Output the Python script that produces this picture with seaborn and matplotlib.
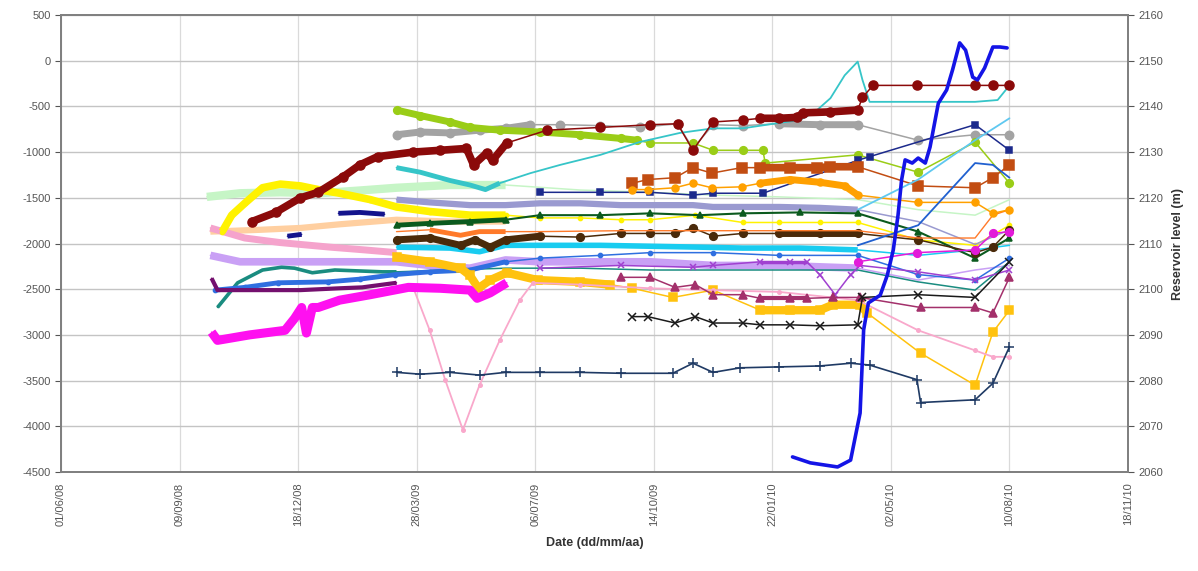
import numpy as np
import pandas as pd
import matplotlib
matplotlib.use("Agg")
import matplotlib.pyplot as plt
import matplotlib.dates as mdates
import seaborn as sns

# Monitoring readings (left axis) and reservoir level (right axis).
# Dates are spreadsheet serial numbers (days since 1899-12-30).

mint_t = [39723, 39751, 39785, 39818, 39852, 39883, 39928, 39975, 40038, 40097, 40150, 40206, 40272, 40323, 40371, 40400]
mint_v = [-1490, -1450, -1440, -1450, -1420, -1390, -1360, -1360, -1415, -1440, -1470, -1490, -1520, -1630, -1690, -1520]

yellow_t = [39736, 39744, 39755, 39770, 39785, 39802, 39817, 39835, 39861, 39883, 39911, 39945, 39975, 40004, 40038, 40072, 40097, 40135, 40175, 40206, 40240, 40272, 40323, 40371, 40400]
yellow_v = [-1870, -1690, -1560, -1390, -1350, -1370, -1410, -1450, -1520, -1600, -1650, -1690, -1690, -1720, -1720, -1740, -1740, -1690, -1770, -1770, -1770, -1770, -1960, -2020, -1800]

peach_t = [39726, 39768, 39802, 39835, 39883, 39928, 39975]
peach_v = [-1870, -1850, -1830, -1790, -1740, -1760, -1760]

pink_early_t = [39726, 39755, 39785, 39827, 39856, 39883]
pink_early_v = [-1830, -1940, -1990, -2040, -2070, -2100]

lilac_t = [39726, 39751, 39785, 39818, 39852, 39883, 39911, 39945, 39975, 40004, 40055, 40097, 40150, 40206, 40272, 40323, 40371, 40400]
lilac_v = [-2130, -2200, -2200, -2200, -2200, -2200, -2240, -2270, -2180, -2200, -2200, -2200, -2240, -2240, -2270, -2400, -2290, -2240]

teal_t = [39732, 39749, 39770, 39786, 39797, 39812, 39831, 39871, 39883, 39928, 39975, 40038, 40097, 40150, 40206, 40272, 40323, 40371, 40400]
teal_v = [-2700, -2430, -2290, -2260, -2270, -2320, -2290, -2310, -2310, -2290, -2270, -2270, -2290, -2290, -2290, -2290, -2420, -2510, -2200]

blue_t = [39730, 39755, 39783, 39825, 39852, 39882, 39911, 39945, 39975, 40004, 40055, 40097, 40150, 40206, 40272, 40323, 40371, 40400]
blue_v = [-2510, -2480, -2430, -2420, -2390, -2340, -2310, -2290, -2200, -2160, -2130, -2100, -2100, -2130, -2130, -2340, -2400, -2160]

dkpurple_t = [39727, 39732, 39770, 39802, 39835, 39854, 39883]
dkpurple_v = [-2380, -2510, -2510, -2510, -2490, -2480, -2430]

navy_a_t = [39791, 39803]
navy_a_v = [-1920, -1900]
navy_b_t = [39834, 39852, 39873]
navy_b_v = [-1670, -1660, -1680]

magenta_t = [39727, 39732, 39759, 39789, 39797, 39803, 39807, 39812, 39817, 39835, 39861, 39893, 39920, 39945, 39951, 39962, 39976]
magenta_v = [-2970, -3060, -3000, -2950, -2820, -2700, -2980, -2700, -2700, -2620, -2560, -2480, -2490, -2510, -2600, -2540, -2430]

darkred_t = [39761, 39781, 39802, 39817, 39838, 39852, 39867, 39897, 39920, 39942, 39948, 39959, 39964, 39976, 40010, 40055, 40097, 40120, 40133, 40150, 40175, 40190, 40206, 40221, 40226, 40249, 40272, 40276, 40285, 40322, 40371, 40386, 40400]
darkred_v = [-1760, -1660, -1500, -1440, -1270, -1140, -1050, -1000, -980, -960, -1140, -1010, -1090, -900, -760, -730, -700, -690, -980, -670, -650, -630, -630, -620, -570, -560, -540, -400, -270, -270, -270, -270, -270]

grey_t = [39883, 39903, 39928, 39953, 39975, 39996, 40021, 40055, 40088, 40120, 40133, 40150, 40175, 40206, 40240, 40272, 40323, 40371, 40400]
grey_v = [-810, -780, -790, -760, -740, -700, -700, -710, -730, -690, -960, -700, -710, -690, -700, -700, -870, -810, -810]

ygreen_t = [39883, 39903, 39928, 39945, 39970, 40004, 40038, 40072, 40086, 40097, 40133, 40150, 40175, 40192, 40194, 40272, 40323, 40371, 40400]
ygreen_v = [-540, -600, -670, -730, -760, -780, -810, -850, -870, -900, -900, -980, -980, -980, -1120, -1030, -1220, -890, -1340]

cyan_t = [39883, 39903, 39928, 39945, 39958, 39970, 39996, 40021, 40055, 40088, 40122, 40150, 40175, 40206, 40223, 40236, 40249, 40261, 40272, 40276, 40282, 40323, 40371, 40390, 40400]
cyan_v = [-1170, -1220, -1310, -1360, -1410, -1340, -1230, -1140, -1030, -890, -790, -740, -740, -680, -650, -560, -410, -160, -10, -210, -450, -450, -450, -430, -270]

lavender_t = [39883, 39911, 39945, 39975, 40004, 40038, 40072, 40097, 40133, 40150, 40175, 40206, 40240, 40272, 40323, 40371, 40400]
lavender_v = [-1520, -1550, -1580, -1580, -1560, -1560, -1580, -1580, -1580, -1600, -1600, -1600, -1610, -1630, -1760, -2010, -1850]

dkgreen_t = [39883, 39911, 39945, 39975, 40004, 40055, 40097, 40139, 40175, 40223, 40272, 40323, 40371, 40400]
dkgreen_v = [-1800, -1780, -1760, -1740, -1690, -1690, -1670, -1690, -1670, -1660, -1670, -1870, -2160, -1940]

browncirc_t = [39883, 39911, 39937, 39949, 39962, 39975, 40004, 40038, 40072, 40097, 40118, 40133, 40150, 40175, 40206, 40240, 40272, 40323, 40371, 40386, 40400]
browncirc_v = [-1960, -1940, -2020, -1960, -2040, -1960, -1920, -1930, -1890, -1890, -1890, -1830, -1920, -1890, -1890, -1890, -1890, -1960, -2100, -2040, -1850]

orangered_t = [39883, 39911, 39937, 39953, 39975, 40004, 40072, 40139, 40206, 40272, 40323, 40371, 40386, 40400]
orangered_v = [-1870, -1850, -1910, -1870, -1870, -1870, -1860, -1860, -1860, -1860, -1940, -1940, -1690, -1630]

cyan2_t = [39883, 39928, 39953, 39975, 40004, 40055, 40097, 40139, 40175, 40223, 40272, 40323, 40371, 40400]
cyan2_v = [-2040, -2050, -2090, -2020, -2020, -2020, -2030, -2040, -2050, -2050, -2070, -2130, -2070, -2020]

navytop_t = [40004, 40055, 40097, 40133, 40150, 40192, 40272, 40282, 40371, 40400]
navytop_v = [-1440, -1440, -1440, -1470, -1450, -1450, -1090, -1050, -700, -980]

brownsq_t = [40082, 40095, 40118, 40133, 40149, 40174, 40190, 40215, 40238, 40249, 40272, 40323, 40371, 40386, 40400]
brownsq_v = [-1340, -1300, -1280, -1170, -1230, -1170, -1170, -1170, -1170, -1160, -1160, -1370, -1390, -1280, -1140]

orange_t = [40082, 40095, 40118, 40133, 40149, 40174, 40190, 40215, 40240, 40261, 40272, 40323, 40371, 40386, 40400]
orange_v = [-1410, -1410, -1390, -1340, -1390, -1380, -1340, -1300, -1330, -1370, -1470, -1550, -1550, -1670, -1630]

gold_t = [39883, 39911, 39937, 39945, 39952, 39962, 39976, 40002, 40038, 40063, 40082, 40116, 40150, 40190, 40215, 40240, 40251, 40274, 40280, 40325, 40371, 40386, 40400]
gold_v = [-2150, -2200, -2270, -2350, -2490, -2400, -2320, -2400, -2420, -2450, -2490, -2590, -2510, -2730, -2730, -2730, -2670, -2670, -2760, -3200, -3550, -2970, -2730]

maroon_t = [40072, 40097, 40118, 40135, 40150, 40175, 40190, 40215, 40229, 40251, 40274, 40325, 40371, 40386, 40400]
maroon_v = [-2370, -2370, -2480, -2450, -2560, -2560, -2600, -2600, -2600, -2590, -2590, -2700, -2700, -2760, -2370]

violet_t = [40004, 40072, 40133, 40150, 40190, 40215, 40229, 40240, 40253, 40266, 40274, 40323, 40371, 40400]
violet_v = [-2270, -2240, -2260, -2240, -2200, -2200, -2200, -2340, -2560, -2340, -2240, -2310, -2400, -2290]

blackx_t = [40082, 40095, 40118, 40135, 40150, 40175, 40190, 40215, 40240, 40272, 40276, 40323, 40371, 40400]
blackx_v = [-2800, -2800, -2870, -2800, -2870, -2870, -2890, -2890, -2900, -2890, -2590, -2560, -2590, -2200]

navyplus_t = [39883, 39903, 39928, 39953, 39975, 40004, 40038, 40072, 40116, 40133, 40150, 40173, 40206, 40240, 40266, 40282, 40322, 40325, 40371, 40386, 40400]
navyplus_v = [-3410, -3430, -3410, -3440, -3410, -3410, -3410, -3420, -3420, -3310, -3410, -3360, -3350, -3340, -3310, -3330, -3490, -3740, -3710, -3530, -3130]

pinkv_t = [39897, 39911, 39924, 39939, 39953, 39970, 39987, 39998, 40038, 40097, 40150, 40206, 40272, 40323, 40371, 40386, 40400]
pinkv_v = [-2480, -2950, -3490, -4040, -3550, -3060, -2620, -2430, -2450, -2490, -2510, -2530, -2620, -2950, -3170, -3240, -3240]

magenta2_t = [40272, 40322, 40371, 40386, 40400]
magenta2_v = [-2200, -2100, -2070, -1890, -1870]

skyblue_t = [40272, 40323, 40371, 40400]
skyblue_v = [-1630, -1300, -870, -630]

royal_t = [40272, 40323, 40371, 40386, 40400]
royal_v = [-2020, -1800, -1120, -1140, -1280]

# Reservoir level (m)
res_t = [40217, 40232, 40255, 40266, 40274, 40277, 40281, 40291, 40297, 40302, 40306, 40309, 40312, 40318, 40323,
         40329, 40333, 40340, 40347, 40352, 40358, 40363, 40369, 40373, 40379, 40386, 40392, 40398]
res_level = [2063.3, 2062.0, 2061.1, 2062.6, 2072.9, 2091.1, 2097.0, 2098.7, 2103.1, 2108.6, 2116.2, 2123.9, 2128.3,
             2127.6, 2128.7, 2127.6, 2131.1, 2140.7, 2143.6, 2148.0, 2153.9, 2152.3, 2146.4, 2145.8, 2148.4, 2153.0,
             2153.0, 2152.8]

x_start, x_end, x_step = 39600, 40500, 100
left_ticks = list(range(-4500, 501, 500))
right_ticks = list(range(2060, 2161, 10))


def to_dates(serials):
    return pd.to_datetime(np.asarray(serials, dtype=float), unit="D", origin="1899-12-30")


sns.set_style("white")
plt.rcParams["font.family"] = ["Liberation Sans", "DejaVu Sans"]
plt.rcParams["axes.unicode_minus"] = False

fig = plt.figure(figsize=(11.98, 5.71), dpi=100)
ax = fig.add_axes([0.0509, 0.1734, 0.8907, 0.8003])


def draw(t, v, color, marker=None, ms=5, lw=1.1, dense=(), dense_lw=4.5):
    df = pd.DataFrame({"date": to_dates(t), "val": v, "serial": t})
    for a, b in dense:
        seg = df[(df.serial >= a) & (df.serial <= b)]
        sns.lineplot(data=seg, x="date", y="val", ax=ax, color=color, lw=dense_lw,
                     estimator=None, sort=False, legend=False, solid_capstyle="butt",
                     solid_joinstyle="round")
    kw = dict(color=color, lw=lw, estimator=None, sort=False, legend=False)
    if marker:
        kw.update(marker=marker, markersize=ms, markeredgecolor=color,
                  markerfacecolor=color, markeredgewidth=1.1)
    sns.lineplot(data=df, x="date", y="val", ax=ax, **kw)


# early, wide bands
draw(mint_t, mint_v, "#C6F5C6", dense=[(39723, 39975)], dense_lw=6)
draw(lilac_t, lilac_v, "#C9A0F5", dense=[(39726, 40272)], dense_lw=5.5)
draw(peach_t, peach_v, "#FFCFA0", dense=[(39726, 39975)], dense_lw=4.5)
draw(pink_early_t, pink_early_v, "#F5A3CC", dense=[(39726, 39883)], dense_lw=5)
draw(yellow_t, yellow_v, "#FFF200", marker="o", ms=3, dense=[(39736, 39975)], dense_lw=5.5)
draw(teal_t, teal_v, "#1A8C80", dense=[(39732, 39883)], dense_lw=2.6)
draw(blue_t, blue_v, "#2F6FE0", marker="o", ms=3, dense=[(39730, 39975)], dense_lw=3.5)
draw(dkpurple_t, dkpurple_v, "#74106E", dense=[(39727, 39883)], dense_lw=3)
draw(navy_a_t, navy_a_v, "#14148C", dense=[(39791, 39803)], dense_lw=3.5)
draw(navy_b_t, navy_b_v, "#14148C", dense=[(39834, 39873)], dense_lw=3.5)

# mid-period groups
draw(cyan2_t, cyan2_v, "#19CCF0", dense=[(39883, 40272)], dense_lw=4)
draw(lavender_t, lavender_v, "#9A9AD0", dense=[(39883, 40272)], dense_lw=4.5)
draw(gold_t, gold_v, "#FFC20E", marker="s", ms=5.5, dense=[(39883, 40063), (40190, 40280)], dense_lw=6)
draw(pinkv_t, pinkv_v, "#F9A8CB", marker="o", ms=2.5, lw=1.3)
draw(magenta_t, magenta_v, "#FF10F0", dense=[(39727, 39976)], dense_lw=6.5)
draw(dkgreen_t, dkgreen_v, "#0B5A1E", marker="^", ms=4, lw=1.5, dense=[(39883, 39975)], dense_lw=3.5)
draw(browncirc_t, browncirc_v, "#4A2A0A", marker="o", ms=5.5, lw=1.1,
     dense=[(39883, 40004), (40190, 40272)], dense_lw=5)
draw(orangered_t, orangered_v, "#FF7A2A", lw=1.0, dense=[(39911, 39975)], dense_lw=3.5)
draw(grey_t, grey_v, "#A3A3A3", marker="o", ms=6, dense=[(39883, 39996), (40206, 40272)], dense_lw=5)
draw(ygreen_t, ygreen_v, "#9ACD17", marker="o", ms=5.5, dense=[(39883, 40086)], dense_lw=5)
draw(cyan_t, cyan_v, "#36C5C8", lw=1.3, dense=[(39883, 39970)], dense_lw=3.5)
draw(darkred_t, darkred_v, "#8B0A0A", marker="o", ms=6.5, lw=1.1,
     dense=[(39761, 39976), (40190, 40272)], dense_lw=5.5)
draw(navytop_t, navytop_v, "#1C2A8C", marker="s", ms=4)
draw(brownsq_t, brownsq_v, "#C24D12", marker="s", ms=7, dense=[(40190, 40272)], dense_lw=5.5)
draw(orange_t, orange_v, "#FFA000", marker="o", ms=5, dense=[(40190, 40272)], dense_lw=5)
draw(violet_t, violet_v, "#A040D0", marker="x", ms=5, dense=[(40190, 40229)], dense_lw=2.5)
draw(maroon_t, maroon_v, "#A3306B", marker="^", ms=5.5, dense=[(40190, 40229)], dense_lw=3)
draw(blackx_t, blackx_v, "#1A1A1A", marker="x", ms=5.5)
draw(navyplus_t, navyplus_v, "#1F3A64", marker="+", ms=7, lw=1.2)
draw(magenta2_t, magenta2_v, "#E21BD9", marker="o", ms=5.5)
draw(skyblue_t, skyblue_v, "#5FC8F0", lw=1.3)
draw(royal_t, royal_v, "#2060D0", lw=1.3)

# x axis: dates every 100 days
ax.set_xlim(to_dates([x_start])[0], to_dates([x_end])[0])
ax.set_xticks(to_dates(list(range(x_start, x_end + 1, x_step))))
ax.xaxis.set_major_formatter(mdates.DateFormatter("%d/%m/%y"))
ax.set_ylim(-4500, 500)
ax.set_yticks(left_ticks)
ax.tick_params(axis="x", labelrotation=90, labelsize=8, colors="#555555", length=4, direction="out")
ax.tick_params(axis="y", labelsize=8, colors="#555555", length=4, direction="out")
ax.set_xlabel("Date (dd/mm/aa)", fontsize=9, fontweight="bold", color="#333333", labelpad=8)
ax.set_ylabel("")
ax.grid(True, axis="y", color="#C4C4C4", lw=1.0)
ax.grid(True, axis="x", color="#DADADA", lw=0.9)
ax.set_axisbelow(True)
for s in ax.spines.values():
    s.set_color("#808080")
    s.set_linewidth(1.3)
    s.set_visible(True)

# reservoir level on the secondary axis
ax2 = ax.twinx()
sns.lineplot(x=to_dates(res_t), y=res_level, ax=ax2, color="#1414E6", lw=2.6,
             estimator=None, sort=False, legend=False)
ax2.set_ylim(2060, 2160)
ax2.set_yticks(right_ticks)
ax2.tick_params(axis="y", labelsize=8, colors="#555555", length=4, direction="out")
ax2.set_ylabel("Reservoir level (m)", fontsize=9, fontweight="bold", color="#333333", labelpad=6)
ax2.set_xlabel("")
ax2.grid(False)
for s in ax2.spines.values():
    s.set_color("#808080")
    s.set_linewidth(1.3)

fig.savefig("out.png", dpi=100, facecolor="white")
